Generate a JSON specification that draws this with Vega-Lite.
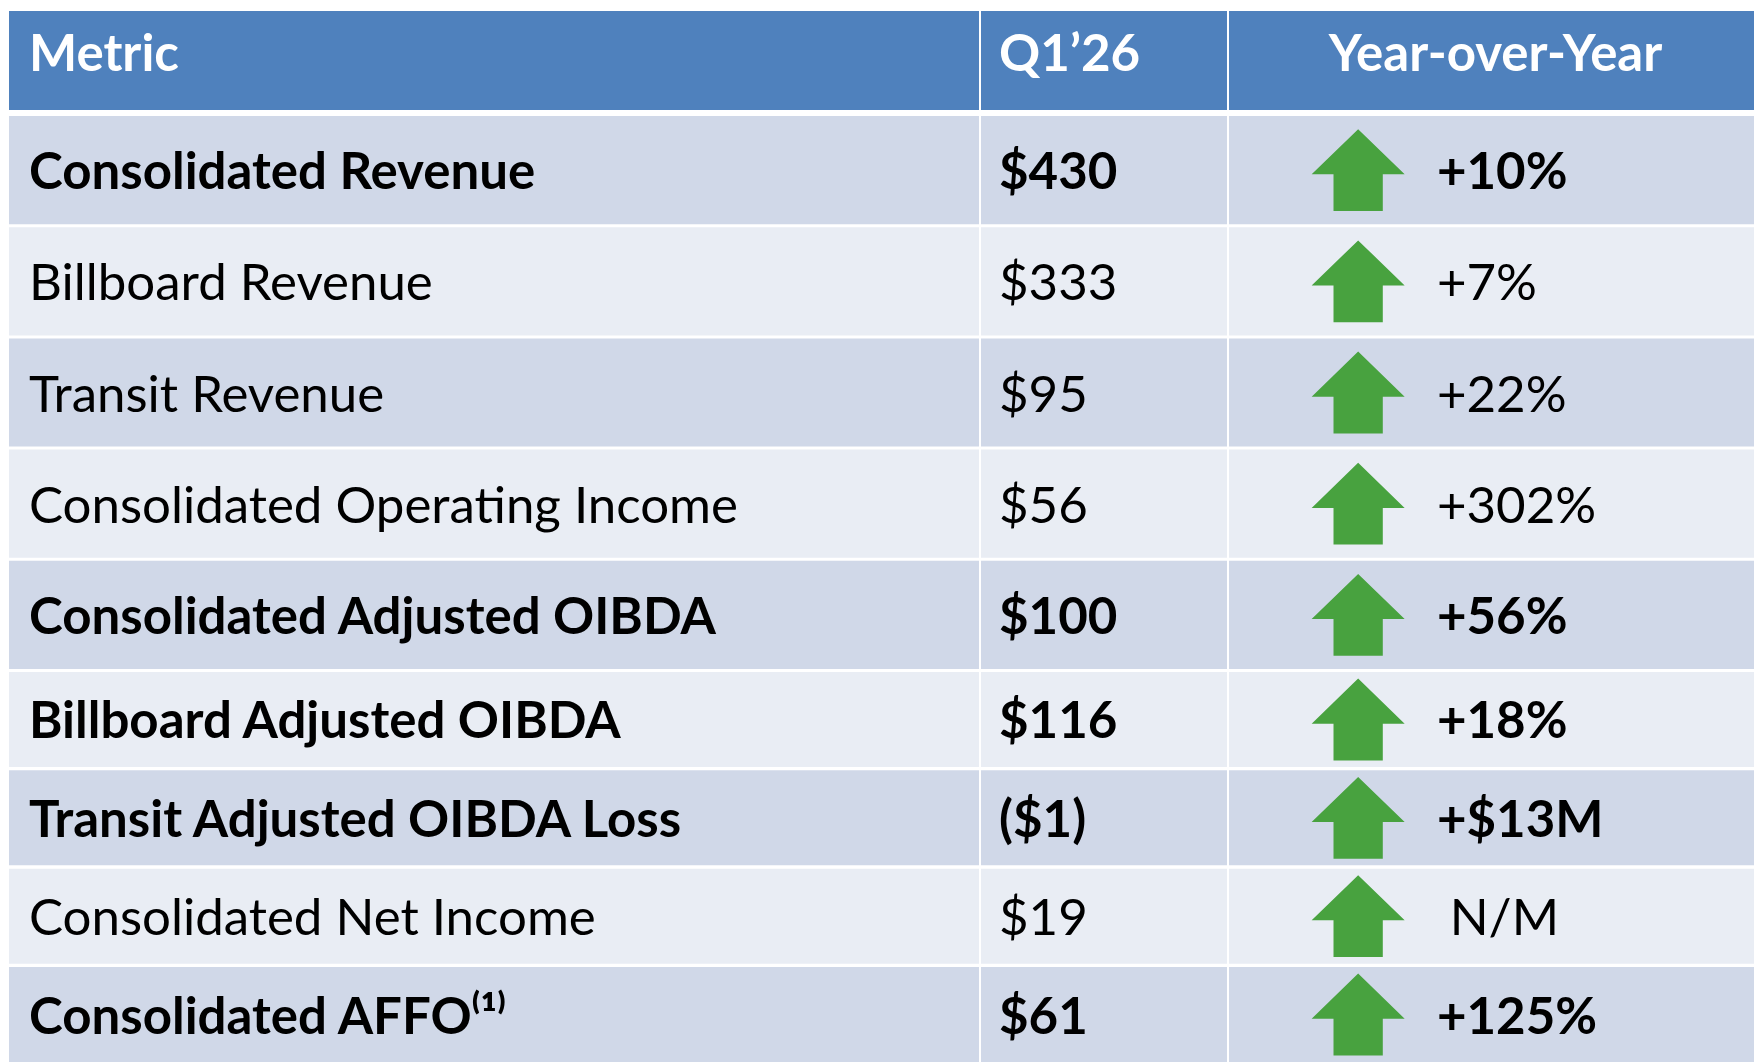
{
  "$schema": "https://vega.github.io/schema/vega-lite/v6.json",
  "padding": {"left": 9, "top": 11, "right": 0, "bottom": 0},
  "background": "#FFFFFF",
  "config": {"view": {"stroke": null}, "font": "Lato"},
  "datasets": {
    "header": [
      {"col": 1, "label": "Metric"},
      {"col": 2, "label": "Q1’26"},
      {"col": 3, "label": "Year-over-Year"}
    ],
    "rows": [
      {"row": 1, "metric": "Consolidated Revenue", "q1": "$430", "yoy": "+10%", "direction": "up", "key": true},
      {"row": 2, "metric": "Billboard Revenue", "q1": "$333", "yoy": "+7%", "direction": "up", "key": false},
      {"row": 3, "metric": "Transit Revenue", "q1": "$95", "yoy": "+22%", "direction": "up", "key": false},
      {"row": 4, "metric": "Consolidated Operating Income", "q1": "$56", "yoy": "+302%", "direction": "up", "key": false},
      {"row": 5, "metric": "Consolidated Adjusted OIBDA", "q1": "$100", "yoy": "+56%", "direction": "up", "key": true},
      {"row": 6, "metric": "Billboard Adjusted OIBDA", "q1": "$116", "yoy": "+18%", "direction": "up", "key": true},
      {"row": 7, "metric": "Transit Adjusted OIBDA Loss", "q1": "($1)", "yoy": "+$13M", "direction": "up", "key": true},
      {"row": 8, "metric": "Consolidated Net Income", "q1": "$19", "yoy": "\u200b\u2005N/M", "direction": "up", "key": false},
      {"row": 9, "metric": "Consolidated AFFO⁽¹⁾", "q1": "$61", "yoy": "+125%", "direction": "up", "key": true}
    ]
  },
  "spacing": 6,
  "vconcat": [
    {
      "spacing": 2,
      "hconcat": [
        {
          "width": 970, "height": 99,
          "data": {"name": "header"},
          "transform": [{"filter": "datum.col == 1"}],
          "layer": [
            {"mark": {"type": "rect", "fill": "#4F81BD"}, "encoding": {}},
            {"mark": {"type": "text", "align": "left", "baseline": "middle", "dx": 20, "dy": -5, "fontSize": 51, "fontWeight": "bold", "color": "#FFFFFF"},
             "encoding": {"x": {"datum": 0, "type": "quantitative", "scale": {"domain": [0, 1]}, "axis": null}, "y": {"datum": 0.5, "type": "quantitative", "scale": {"domain": [0, 1]}, "axis": null}, "text": {"field": "label"}}}
          ]
        },
        {
          "width": 246, "height": 99,
          "data": {"name": "header"},
          "transform": [{"filter": "datum.col == 2"}],
          "layer": [
            {"mark": {"type": "rect", "fill": "#4F81BD"}, "encoding": {}},
            {"mark": {"type": "text", "align": "left", "baseline": "middle", "dx": 18, "dy": -5, "fontSize": 51, "fontWeight": "bold", "color": "#FFFFFF"},
             "encoding": {"x": {"datum": 0, "type": "quantitative", "scale": {"domain": [0, 1]}, "axis": null}, "y": {"datum": 0.5, "type": "quantitative", "scale": {"domain": [0, 1]}, "axis": null}, "text": {"field": "label"}}}
          ]
        },
        {
          "width": 525, "height": 99,
          "data": {"name": "header"},
          "transform": [{"filter": "datum.col == 3"}],
          "layer": [
            {"mark": {"type": "rect", "fill": "#4F81BD"}, "encoding": {}},
            {"mark": {"type": "text", "align": "center", "baseline": "middle", "dx": 4, "dy": -5, "fontSize": 51, "fontWeight": "bold", "color": "#FFFFFF"},
             "encoding": {"x": {"datum": 0.5, "type": "quantitative", "scale": {"domain": [0, 1]}, "axis": null}, "y": {"datum": 0.5, "type": "quantitative", "scale": {"domain": [0, 1]}, "axis": null}, "text": {"field": "label"}}}
          ]
        }
      ]
    },
    {
      "spacing": 3,
      "vconcat": [
        {
          "spacing": 2,
          "hconcat": [
            {
              "width": 970, "height": 553,
              "data": {"name": "rows"},
              "transform": [{"filter": "datum.row <= 5"}],
              "encoding": {"y": {"field": "row", "type": "ordinal", "axis": null, "scale": {"paddingInner": 0.027, "paddingOuter": 0}}},
              "layer": [
                {"mark": {"type": "rect"}, "encoding": {"color": {"condition": {"test": "datum.row % 2 == 1", "value": "#D0D8E8"}, "value": "#E9EDF4"}}},
                {"transform": [{"filter": "datum.key"}],
                 "mark": {"type": "text", "align": "left", "baseline": "middle", "dx": 20, "dy": 4, "fontSize": 51, "fontWeight": "bold", "color": "#000000"},
                 "encoding": {"x": {"datum": 0, "type": "quantitative", "scale": {"domain": [0, 1]}, "axis": null}, "text": {"field": "metric"}}},
                {"transform": [{"filter": "!datum.key"}],
                 "mark": {"type": "text", "align": "left", "baseline": "middle", "dx": 20, "dy": 4, "fontSize": 51, "fontWeight": "normal", "color": "#000000"},
                 "encoding": {"x": {"datum": 0, "type": "quantitative", "scale": {"domain": [0, 1]}, "axis": null}, "text": {"field": "metric"}}}
              ]
            },
            {
              "width": 246, "height": 553,
              "data": {"name": "rows"},
              "transform": [{"filter": "datum.row <= 5"}],
              "encoding": {"y": {"field": "row", "type": "ordinal", "axis": null, "scale": {"paddingInner": 0.027, "paddingOuter": 0}}},
              "layer": [
                {"mark": {"type": "rect"}, "encoding": {"color": {"condition": {"test": "datum.row % 2 == 1", "value": "#D0D8E8"}, "value": "#E9EDF4"}}},
                {"transform": [{"filter": "datum.key"}],
                 "mark": {"type": "text", "align": "left", "baseline": "middle", "dx": 18, "dy": 4, "fontSize": 51, "fontWeight": "bold", "color": "#000000"},
                 "encoding": {"x": {"datum": 0, "type": "quantitative", "scale": {"domain": [0, 1]}, "axis": null}, "text": {"field": "q1"}}},
                {"transform": [{"filter": "!datum.key"}],
                 "mark": {"type": "text", "align": "left", "baseline": "middle", "dx": 18, "dy": 4, "fontSize": 51, "fontWeight": "normal", "color": "#000000"},
                 "encoding": {"x": {"datum": 0, "type": "quantitative", "scale": {"domain": [0, 1]}, "axis": null}, "text": {"field": "q1"}}}
              ]
            },
            {
              "width": 525, "height": 553,
              "data": {"name": "rows"},
              "transform": [{"filter": "datum.row <= 5"}],
              "encoding": {"y": {"field": "row", "type": "ordinal", "axis": null, "scale": {"paddingInner": 0.027, "paddingOuter": 0}}},
              "layer": [
                {"mark": {"type": "rect"}, "encoding": {"color": {"condition": {"test": "datum.row % 2 == 1", "value": "#D0D8E8"}, "value": "#E9EDF4"}}},
                {"mark": {"type": "point", "shape": "M0,-0.88L1,0.09L0.53,0.09L0.53,0.88L-0.53,0.88L-0.53,0.09L-1,0.09Z", "filled": true, "fill": "#48A23F", "opacity": 1, "size": 8649, "strokeWidth": 0},
                 "encoding": {"x": {"datum": 0.246, "type": "quantitative", "scale": {"domain": [0, 1]}, "axis": null}}},
                {"transform": [{"filter": "datum.key"}],
                 "mark": {"type": "text", "align": "left", "baseline": "middle", "dy": 4, "fontSize": 51, "fontWeight": "bold", "color": "#000000"},
                 "encoding": {"x": {"datum": 0.396, "type": "quantitative", "scale": {"domain": [0, 1]}, "axis": null}, "text": {"field": "yoy"}}},
                {"transform": [{"filter": "!datum.key"}],
                 "mark": {"type": "text", "align": "left", "baseline": "middle", "dy": 4, "fontSize": 51, "fontWeight": "normal", "color": "#000000"},
                 "encoding": {"x": {"datum": 0.396, "type": "quantitative", "scale": {"domain": [0, 1]}, "axis": null}, "text": {"field": "yoy"}}}
              ]
            }
          ]
        },
        {
          "spacing": 2,
          "hconcat": [
            {
              "width": 970, "height": 390,
              "data": {"name": "rows"},
              "transform": [{"filter": "datum.row > 5"}],
              "encoding": {"y": {"field": "row", "type": "ordinal", "axis": null, "scale": {"paddingInner": 0.035, "paddingOuter": 0}}},
              "layer": [
                {"mark": {"type": "rect"}, "encoding": {"color": {"condition": {"test": "datum.row % 2 == 1", "value": "#D0D8E8"}, "value": "#E9EDF4"}}},
                {"transform": [{"filter": "datum.key"}],
                 "mark": {"type": "text", "align": "left", "baseline": "middle", "dx": 20, "dy": 4, "fontSize": 51, "fontWeight": "bold", "color": "#000000"},
                 "encoding": {"x": {"datum": 0, "type": "quantitative", "scale": {"domain": [0, 1]}, "axis": null}, "text": {"field": "metric"}}},
                {"transform": [{"filter": "!datum.key"}],
                 "mark": {"type": "text", "align": "left", "baseline": "middle", "dx": 20, "dy": 4, "fontSize": 51, "fontWeight": "normal", "color": "#000000"},
                 "encoding": {"x": {"datum": 0, "type": "quantitative", "scale": {"domain": [0, 1]}, "axis": null}, "text": {"field": "metric"}}}
              ]
            },
            {
              "width": 246, "height": 390,
              "data": {"name": "rows"},
              "transform": [{"filter": "datum.row > 5"}],
              "encoding": {"y": {"field": "row", "type": "ordinal", "axis": null, "scale": {"paddingInner": 0.035, "paddingOuter": 0}}},
              "layer": [
                {"mark": {"type": "rect"}, "encoding": {"color": {"condition": {"test": "datum.row % 2 == 1", "value": "#D0D8E8"}, "value": "#E9EDF4"}}},
                {"transform": [{"filter": "datum.key"}],
                 "mark": {"type": "text", "align": "left", "baseline": "middle", "dx": 18, "dy": 4, "fontSize": 51, "fontWeight": "bold", "color": "#000000"},
                 "encoding": {"x": {"datum": 0, "type": "quantitative", "scale": {"domain": [0, 1]}, "axis": null}, "text": {"field": "q1"}}},
                {"transform": [{"filter": "!datum.key"}],
                 "mark": {"type": "text", "align": "left", "baseline": "middle", "dx": 18, "dy": 4, "fontSize": 51, "fontWeight": "normal", "color": "#000000"},
                 "encoding": {"x": {"datum": 0, "type": "quantitative", "scale": {"domain": [0, 1]}, "axis": null}, "text": {"field": "q1"}}}
              ]
            },
            {
              "width": 525, "height": 390,
              "data": {"name": "rows"},
              "transform": [{"filter": "datum.row > 5"}],
              "encoding": {"y": {"field": "row", "type": "ordinal", "axis": null, "scale": {"paddingInner": 0.035, "paddingOuter": 0}}},
              "layer": [
                {"mark": {"type": "rect"}, "encoding": {"color": {"condition": {"test": "datum.row % 2 == 1", "value": "#D0D8E8"}, "value": "#E9EDF4"}}},
                {"mark": {"type": "point", "shape": "M0,-0.88L1,0.09L0.53,0.09L0.53,0.88L-0.53,0.88L-0.53,0.09L-1,0.09Z", "filled": true, "fill": "#48A23F", "opacity": 1, "size": 8649, "strokeWidth": 0},
                 "encoding": {"x": {"datum": 0.246, "type": "quantitative", "scale": {"domain": [0, 1]}, "axis": null}}},
                {"transform": [{"filter": "datum.key"}],
                 "mark": {"type": "text", "align": "left", "baseline": "middle", "dy": 4, "fontSize": 51, "fontWeight": "bold", "color": "#000000"},
                 "encoding": {"x": {"datum": 0.396, "type": "quantitative", "scale": {"domain": [0, 1]}, "axis": null}, "text": {"field": "yoy"}}},
                {"transform": [{"filter": "!datum.key"}],
                 "mark": {"type": "text", "align": "left", "baseline": "middle", "dy": 4, "fontSize": 51, "fontWeight": "normal", "color": "#000000"},
                 "encoding": {"x": {"datum": 0.396, "type": "quantitative", "scale": {"domain": [0, 1]}, "axis": null}, "text": {"field": "yoy"}}}
              ]
            }
          ]
        }
      ]
    }
  ]
}
